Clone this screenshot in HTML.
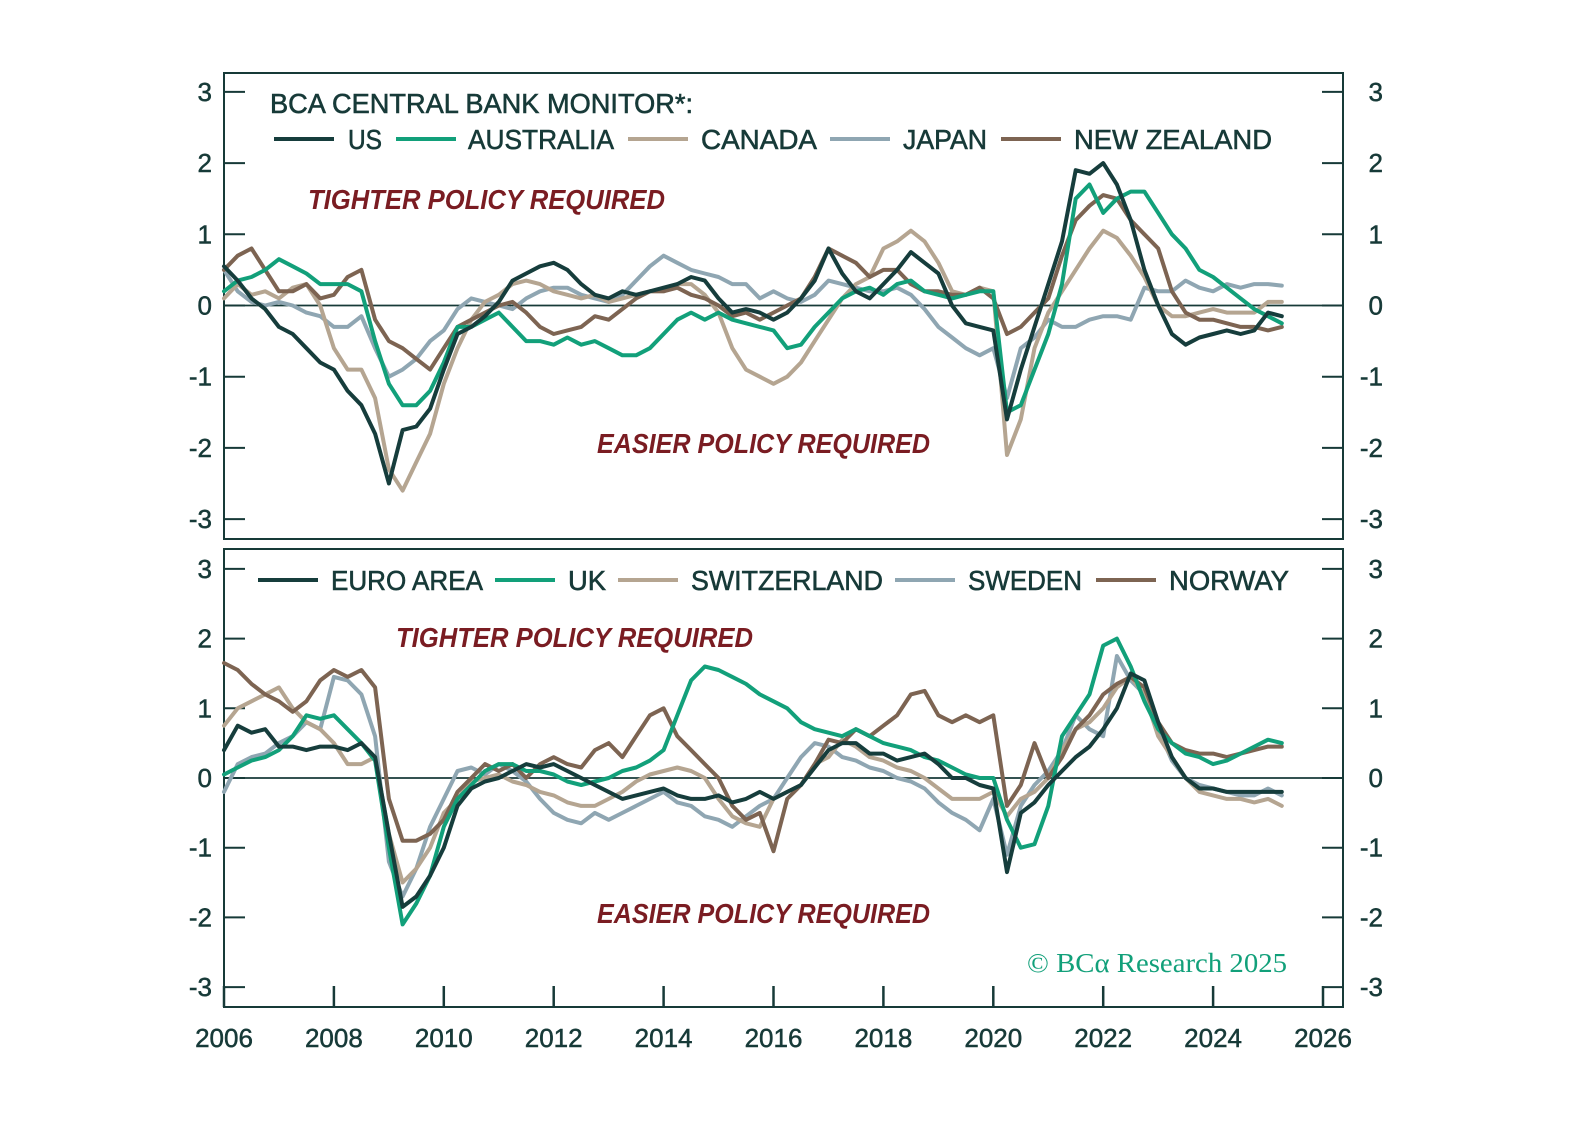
<!DOCTYPE html>
<html><head><meta charset="utf-8"><style>
html,body{margin:0;padding:0;background:#fff;}
svg{display:block;font-family:"Liberation Sans",sans-serif;}
</style></head><body>
<svg id="chart" width="1588" height="1144" viewBox="0 0 1588 1144" xmlns="http://www.w3.org/2000/svg">
<g id="axes"></g>
<g id="lines"></g>
<g id="texts"></g>
</svg>
<script>
const startYear = 2006;
const stepYear = 0.25;
const yTicks = [3, 2, 1, 0, -1, -2, -3];
const xTickYears = [2006, 2008, 2010, 2012, 2014, 2016, 2018, 2020, 2022, 2024, 2026];

const usVals = [.55,.35,.1,-.05,-.3,-.4,-.6,-.8,-.9,-1.2,-1.4,-1.8,-2.5,-1.75,-1.7,-1.45,-.9,-.4,-.3,-.15,.05,.35,.45,.55,.6,.5,.3,.15,.1,.2,.15,.2,.25,.3,.4,.35,.1,-.1,-.05,-.1,-.2,-.1,.1,.35,.8,.45,.2,.1,.3,.5,.75,.6,.45,0,-.25,-.3,-.35,-1.6,-.9,-.3,.3,.9,1.9,1.85,2.0,1.7,1.2,.5,0,-.4,-.55,-.45,-.4,-.35,-.4,-.35,-.1,-.15];
const australiaVals = [.2,.35,.4,.5,.65,.55,.45,.3,.3,.3,.2,-.5,-1.1,-1.4,-1.4,-1.2,-.8,-.3,-.3,-.2,-.1,-.3,-.5,-.5,-.55,-.45,-.55,-.5,-.6,-.7,-.7,-.6,-.4,-.2,-.1,-.2,-.1,-.2,-.25,-.3,-.35,-.6,-.55,-.3,-.1,.1,.2,.25,.15,.3,.35,.2,.15,.1,.15,.2,.2,-1.5,-1.4,-.9,-.4,.3,1.5,1.7,1.3,1.5,1.6,1.6,1.3,1.0,.8,.5,.4,.25,.1,-.05,-.15,-.25];
const canadaVals = [.1,.3,.15,.2,.1,.25,.3,0,-.6,-.9,-.9,-1.3,-2.3,-2.6,-2.2,-1.8,-1.1,-.6,-.2,.05,.15,.3,.35,.3,.2,.15,.1,.15,.05,.1,.15,.2,.2,.3,.3,.15,-.1,-.6,-.9,-1.0,-1.1,-1.0,-.8,-.5,-.2,.1,.3,.4,.8,.9,1.05,.9,.6,.2,.15,.25,.2,-2.1,-1.6,-.6,-.1,.2,.5,.8,1.05,.95,.7,.4,0,-.15,-.15,-.1,-.05,-.1,-.1,-.1,.05,.05];
const japanVals = [.5,.2,.05,0,.05,0,-.1,-.15,-.3,-.3,-.15,-.6,-1.0,-.9,-.75,-.5,-.35,-.05,.1,.05,0,-.05,.1,.2,.25,.25,.15,.1,.05,.15,.35,.55,.7,.6,.5,.45,.4,.3,.3,.1,.2,.1,.05,.15,.35,.3,.25,.2,.2,.25,.15,-.05,-.3,-.45,-.6,-.7,-.6,-1.3,-.6,-.45,-.2,-.3,-.3,-.2,-.15,-.15,-.2,.25,.2,.2,.35,.25,.2,.3,.25,.3,.3,.28];
const newZealandVals = [.5,.7,.8,.5,.2,.2,.3,.1,.15,.4,.5,-.2,-.5,-.6,-.75,-.9,-.6,-.3,-.2,-.1,0,.05,-.1,-.3,-.4,-.35,-.3,-.15,-.2,-.05,.1,.2,.2,.25,.15,.1,0,-.15,-.1,-.2,-.1,0,.1,.4,.8,.7,.6,.4,.5,.5,.3,.2,.2,.15,.15,.25,.1,-.4,-.3,-.1,.1,.7,1.2,1.4,1.55,1.5,1.2,1.0,.8,.2,-.1,-.2,-.2,-.25,-.3,-.3,-.35,-.3];

const euroVals = [.4,.75,.65,.7,.45,.45,.4,.45,.45,.4,.5,.3,-.8,-1.85,-1.7,-1.4,-1.0,-.4,-.15,-.05,0,.1,.2,.15,.2,.1,0,-.1,-.2,-.3,-.25,-.2,-.15,-.25,-.3,-.3,-.25,-.35,-.3,-.2,-.3,-.2,-.1,.15,.4,.5,.5,.35,.35,.25,.3,.35,.2,0,0,-.1,-.15,-1.35,-.5,-.35,-.1,.1,.3,.45,.7,1.0,1.5,1.4,.8,.3,0,-.15,-.15,-.2,-.2,-.2,-.2,-.2];
const ukVals = [.05,.15,.25,.3,.4,.6,.9,.85,.9,.7,.5,.25,-1.0,-2.1,-1.8,-1.4,-.7,-.3,-.1,.1,.2,.2,.1,.1,.05,-.05,-.1,-.05,0,.1,.15,.25,.4,.9,1.4,1.6,1.55,1.45,1.35,1.2,1.1,1.0,.8,.7,.65,.6,.7,.6,.5,.45,.4,.3,.25,.15,.05,0,0,-.6,-1.0,-.95,-.4,.6,.9,1.2,1.9,2.0,1.6,1.1,.7,.5,.35,.3,.2,.25,.35,.45,.55,.5];
const switzerlandVals = [.75,1.0,1.1,1.2,1.3,1.0,.8,.7,.5,.2,.2,.3,-.8,-1.5,-1.3,-1.0,-.5,-.3,-.05,0,.05,-.05,-.1,-.2,-.25,-.35,-.4,-.4,-.3,-.2,-.05,.05,.1,.15,.1,0,-.3,-.55,-.65,-.7,-.3,-.2,-.1,.2,.3,.55,.45,.3,.25,.15,.1,0,-.15,-.3,-.3,-.3,-.2,-.55,-.3,-.2,0,.4,.7,.8,1.0,1.3,1.45,1.2,.6,.3,0,-.2,-.25,-.3,-.3,-.35,-.3,-.4];
const swedenVals = [-.2,.2,.3,.35,.5,.6,.8,.7,1.45,1.4,1.2,.6,-1.2,-1.7,-1.3,-.7,-.3,.1,.15,.05,.2,.1,-.05,-.3,-.5,-.6,-.65,-.5,-.6,-.5,-.4,-.3,-.2,-.35,-.4,-.55,-.6,-.7,-.55,-.4,-.3,0,.3,.5,.45,.3,.25,.15,.1,0,-.05,-.15,-.35,-.5,-.6,-.75,-.3,-1.1,-.4,-.1,.1,.4,.9,.7,.6,1.75,1.4,1.2,.7,.25,0,-.1,-.15,-.2,-.25,-.25,-.15,-.25];
const norwayVals = [1.65,1.55,1.35,1.2,1.1,.95,1.1,1.4,1.55,1.45,1.55,1.3,-.3,-.9,-.9,-.8,-.6,-.2,0,.2,.1,.2,0,.2,.3,.2,.15,.4,.5,.3,.6,.9,1.0,.6,.4,.2,0,-.4,-.6,-.5,-1.05,-.3,-.1,.2,.55,.5,.7,.6,.75,.9,1.2,1.25,.9,.8,.9,.8,.9,-.4,-.1,.5,0,.3,.7,.9,1.2,1.35,1.45,1.3,.8,.5,.4,.35,.35,.3,.35,.4,.45,.45];

const C = {dark:'#163d3c', green:'#12a07a', tan:'#b5a591', gray:'#8fa6b2', brown:'#7d6452', text:'#173a38', red:'#7a1c22'};
const NS = 'http://www.w3.org/2000/svg';
const X0 = 224, XPY = 54.95;
const xs = yr => X0 + (yr - 2006) * XPY;
const panels = [
  {top:73, bottom:539, zero:305.5, unit:71.2},
  {top:549, bottom:1007, zero:778, unit:69.7}
];
const ys = (p, v) => p.zero - v * p.unit;

function mk(tag, attrs, parent, text){
  const e = document.createElementNS(NS, tag);
  for (const k in attrs) e.setAttribute(k, attrs[k]);
  if (text !== undefined) e.textContent = text;
  parent.appendChild(e);
  return e;
}
const axes = document.getElementById('axes');
const lines = document.getElementById('lines');
const texts = document.getElementById('texts');

panels.forEach((p, pi) => {
  const box = mk('rect', {x:224, y:p.top, width:1119, height:p.bottom-p.top, fill:'none', stroke:C.text, 'stroke-width':2}, axes);
  
  
  const z = mk('line', {x1:224, x2:1343, y1:p.zero, y2:p.zero, stroke:C.text, 'stroke-width':1.8}, axes);
  
  
  yTicks.forEach(t => {
    const y = ys(p, t);
    mk('line', {x1:224, x2:245, y1:y, y2:y, stroke:C.text, 'stroke-width':2}, axes);
    mk('line', {x1:1322, x2:1343, y1:y, y2:y, stroke:C.text, 'stroke-width':2}, axes);
    const l = mk('text', {x:212, y:y+9, 'text-anchor':'end', 'font-size':26, fill:C.text, stroke:C.text, 'stroke-width':0.5}, texts, String(t));
    
    
    const r = mk('text', {x:1383, y:y+9, 'text-anchor':'end', 'font-size':26, fill:C.text, stroke:C.text, 'stroke-width':0.5}, texts, String(t));
    
    
  });
});
xTickYears.forEach(yr => {
  const x = xs(yr);
  mk('line', {x1:x, x2:x, y1:1007, y2:986, stroke:C.text, 'stroke-width':2.5}, axes);
  const t = mk('text', {x:x, y:1047, 'text-anchor':'middle', 'font-size':26, fill:C.text, stroke:C.text, 'stroke-width':0.5}, texts, String(yr));
  
  
});

function drawSeries(vals, p, color, name){
  const pts = vals.map((v, i) => xs(startYear + i*stepYear).toFixed(1) + ',' + ys(p, v).toFixed(1)).join(' ');
  const pl = mk('polyline', {points:pts, fill:'none', stroke:color, 'stroke-width':4, 'stroke-linejoin':'round', 'stroke-linecap':'round'}, lines);
  
  
}
const P1 = panels[0], P2 = panels[1];
drawSeries(japanVals, P1, C.gray, 'japan-line');
drawSeries(canadaVals, P1, C.tan, 'canada-line');
drawSeries(newZealandVals, P1, C.brown, 'new-zealand-line');
drawSeries(australiaVals, P1, C.green, 'australia-line');
drawSeries(usVals, P1, C.dark, 'us-line');
drawSeries(swedenVals, P2, C.gray, 'sweden-line');
drawSeries(switzerlandVals, P2, C.tan, 'switzerland-line');
drawSeries(norwayVals, P2, C.brown, 'norway-line');
drawSeries(ukVals, P2, C.green, 'uk-line');
drawSeries(euroVals, P2, C.dark, 'euro-area-line');

const title = mk('text', {x:270, y:113, 'font-size':28, fill:C.text, stroke:C.text, 'stroke-width':0.6, textLength:423, lengthAdjust:'spacingAndGlyphs'}, texts, 'BCA CENTRAL BANK MONITOR*:');



function legend(entries, y){
  entries.forEach(e => {
    const g = mk('g', {}, texts);
    
    
    mk('line', {x1:e[2], x2:e[2]+60, y1:y, y2:y, stroke:e[0], 'stroke-width':4}, g);
    mk('text', {x:e[3], y:y+10, 'font-size':28, fill:C.text, stroke:C.text, 'stroke-width':0.6, textLength:e[4], lengthAdjust:'spacingAndGlyphs'}, g, e[1]);
  });
}
legend([[C.dark,'US',274,348,34],[C.green,'AUSTRALIA',396,468,146],[C.tan,'CANADA',628,701,116],[C.gray,'JAPAN',830,903,84],[C.brown,'NEW ZEALAND',1001,1074,198]], 139);
legend([[C.dark,'EURO AREA',258,331,152],[C.green,'UK',495,568,38],[C.tan,'SWITZERLAND',618,691,192],[C.gray,'SWEDEN',895,968,114],[C.brown,'NORWAY',1096,1169,120]], 580);

function note(txt, x, y, w, name){
  const t = mk('text', {x:x, y:y, 'font-size':28, 'font-style':'italic', 'font-weight':'bold', fill:C.red, textLength:w, lengthAdjust:'spacingAndGlyphs'}, texts, txt);
  
  
}
note('TIGHTER POLICY REQUIRED', 308, 209, 357, 'tighter-policy-label-top');
note('EASIER POLICY REQUIRED', 597, 453, 333, 'easier-policy-label-top');
note('TIGHTER POLICY REQUIRED', 396, 647, 357, 'tighter-policy-label-bottom');
note('EASIER POLICY REQUIRED', 597, 923, 333, 'easier-policy-label-bottom');

const cr = mk('text', {x:1027, y:972, 'font-size':27, fill:C.green, 'font-family':'Liberation Serif, serif', textLength:260, lengthAdjust:'spacingAndGlyphs'}, texts, '© BCα Research 2025');


</script>
</body></html>
